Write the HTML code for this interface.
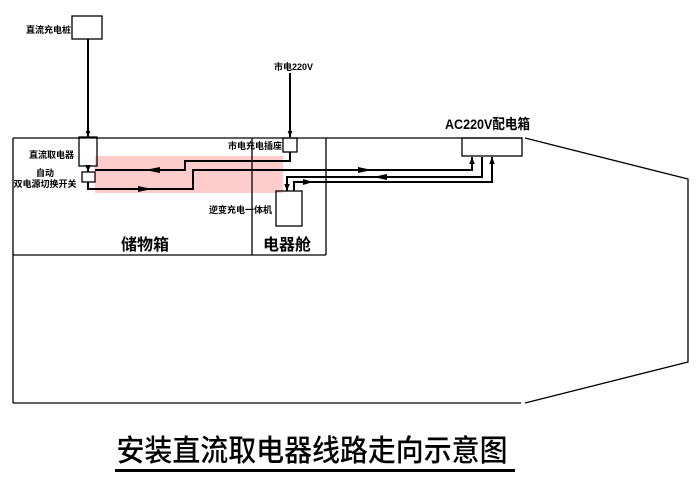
<!DOCTYPE html>
<html><head><meta charset="utf-8"><style>
body{margin:0;background:#fff;}
svg text{font-family:"Liberation Sans","Noto Sans CJK SC",sans-serif;fill:#000;}
</style></head><body>
<svg width="700" height="487" viewBox="0 0 700 487" xmlns="http://www.w3.org/2000/svg">
<defs>
<marker id="a" viewBox="0 0 10 10" refX="10" refY="5" markerWidth="7" markerHeight="7" orient="auto" markerUnits="userSpaceOnUse"><path d="M0,1 L10,5 L0,9 z" fill="#000"/></marker>
<marker id="b" viewBox="0 0 10 10" refX="10" refY="5" markerWidth="10" markerHeight="6" orient="auto" markerUnits="userSpaceOnUse"><path d="M0,1 L10,5 L0,9 z" fill="#000"/></marker>
</defs>
<rect x="95" y="156" width="188" height="37" fill="#fcc"/>
<g fill="none" stroke="#000" stroke-width="1.3">
<path d="M13,138 L522,138 M525,138 L688,179 L688,362 L525,403 M13,403 L521,403"/>
<path d="M13,138 L13,403 M13,255 L326,255 M252,138 L252,255 M326,138 L326,255"/>
<rect x="462" y="138" width="60" height="18"/>
<rect x="283" y="138" width="14" height="14"/>
<rect x="276" y="191" width="26" height="35"/>
<rect x="79" y="137" width="18" height="29"/>
<rect x="82" y="172" width="13" height="10"/>
<rect x="72" y="16" width="30" height="23"/>
</g>
<g fill="none" stroke="#000" stroke-width="2">
<path d="M88,39 L88,137" marker-end="url(#b)"/>
<path d="M290,73 L290,137" marker-end="url(#b)"/>
<path d="M88,166 L88,172" marker-end="url(#a)"/>
<path d="M290,152 L290,161 L185,161 L185,170 L95,170"/>
<path d="M88,182 L88,189 L193,189 L193,170 L472,170 L472,157" marker-end="url(#a)"/>
<path d="M482,157 L482,177 L287,177 L287,191" marker-end="url(#a)"/>
<path d="M294,191 L294,182 L492,182 L492,157" marker-end="url(#a)"/>
</g>
<g fill="#000">
<path d="M145,170 L160,167 L160,173 z"/>
<path d="M152,189 L138,186 L138,192 z"/>
<path d="M372,170 L358,167 L358,173 z"/>
<path d="M373,177 L387,174 L387,180 z"/>
<path d="M313,182 L303,179 L303,185 z"/>
</g>
<g font-size="9" font-weight="bold">
<text x="26" y="33">直流充电桩</text>
<text x="274" y="70">市电220V</text>
<text x="74" y="158" text-anchor="end">直流取电器</text>
<text x="45" y="176" text-anchor="middle">自动</text>
<text x="45" y="187" text-anchor="middle">双电源切换开关</text>
<text x="282" y="149" text-anchor="end">市电充电插座</text>
<text x="272" y="213" text-anchor="end">逆变充电一体机</text>
</g>
<text x="145" y="250" font-size="16" font-weight="bold" text-anchor="middle">储物箱</text>
<text x="287" y="250" font-size="16" font-weight="bold" text-anchor="middle">电器舱</text>
<text x="445" y="129" font-size="14" font-weight="bold" textLength="85" lengthAdjust="spacingAndGlyphs">AC220V配电箱</text>
<text x="312" y="461" font-size="30" font-weight="500" text-anchor="middle" textLength="391" lengthAdjust="spacingAndGlyphs">安装直流取电器线路走向示意图</text>
<rect x="115" y="469" width="400" height="3" fill="#000"/>
</svg>
</body></html>
